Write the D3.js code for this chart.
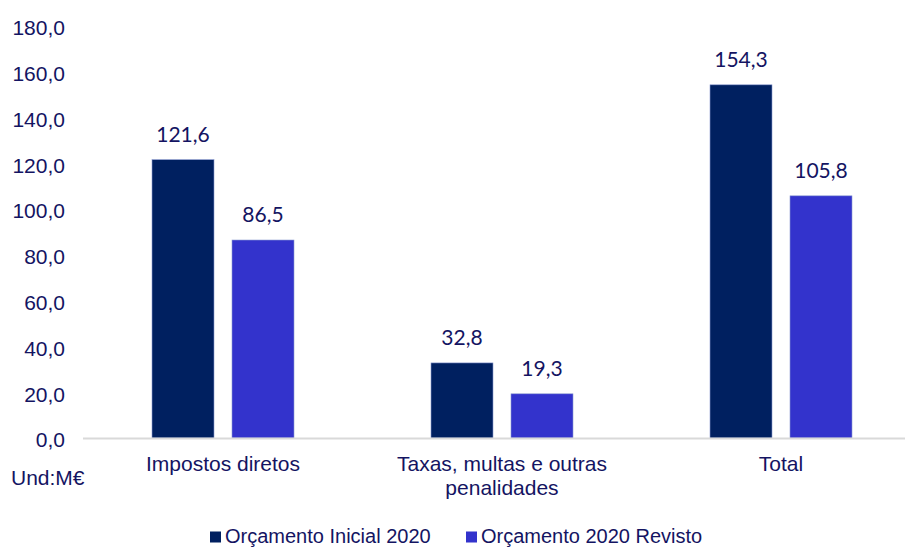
<!DOCTYPE html>
<html>
<head>
<meta charset="utf-8">
<script src="https://cdn.jsdelivr.net/npm/d3@7"></script>
<style>
  html, body { margin: 0; padding: 0; background: #ffffff; }
  svg { display: block; }
</style>
</head>
<body>
<svg id="chart" width="905" height="547"></svg>
<script>
// Receitas por categoria (milhões de euros)
const categories = ["Impostos diretos", "Taxas, multas e outras penalidades", "Total"];
const categoryLines = [["Impostos diretos"], ["Taxas, multas e outras", "penalidades"], ["Total"]];
const seriesNames = ["Orçamento Inicial 2020", "Orçamento 2020 Revisto"];
const inicial = [121.6, 32.8, 154.3];
const revisto = [86.5, 19.3, 105.8];
const yTicks = [0, 20, 40, 60, 80, 100, 120, 140, 160, 180];
const unitLabel = "Und:M€";

const seriesValues = [inicial, revisto];
const colors = ["#002060", "#3333CC"];
const textColor = "#141462";
const fmt = v => d3.format(".1f")(v).replace(".", ",");

const svg = d3.select("#chart");

const x = d3.scaleBand().domain(categories).range([83.5, 920.5]).padding(0);
const xs = d3.scaleBand().domain(seriesNames).range([68.5, 210.5]).paddingInner(0.225).paddingOuter(0);
const y = d3.scaleLinear().domain([0, 180]).range([438, 26]);

// Eixo Y (apenas rótulos)
const yAxis = d3.axisLeft(y).tickValues(yTicks).tickFormat(fmt).tickSize(0).tickPadding(0);
const gy = svg.append("g").attr("transform", "translate(65,0)").call(yAxis);
gy.select(".domain").remove();
gy.selectAll("text")
  .attr("fill", textColor)
  .attr("font-family", "'Liberation Sans', Arial, sans-serif")
  .attr("font-size", 21)
  .attr("dy", "0.42em");

// Barras
categories.forEach((cat, i) => {
  const g = svg.append("g").attr("transform", `translate(${x(cat)},0)`);
  seriesNames.forEach((s, j) => {
    const v = seriesValues[j][i];
    g.append("rect")
      .attr("x", xs(s))
      .attr("y", y(v))
      .attr("width", xs.bandwidth())
      .attr("height", y(0) - y(v))
      .attr("fill", colors[j])
      .attr("stroke", "#8a9ad0")
      .attr("stroke-width", 0.6);
    g.append("text")
      .attr("x", xs(s) + xs.bandwidth() / 2)
      .attr("y", y(v) - 18)
      .attr("text-anchor", "middle")
      .attr("fill", textColor)
      .attr("font-family", "Lato, 'Open Sans', sans-serif")
      .attr("font-size", 21)
      .text(fmt(v));
  });
});

// Linha de base
svg.append("line")
  .attr("x1", 83).attr("x2", 905)
  .attr("y1", y(0) + 0.5).attr("y2", y(0) + 0.5)
  .attr("stroke", "#d9d9d9")
  .attr("stroke-width", 2);

// Rótulos das categorias
categories.forEach((cat, i) => {
  const t = svg.append("text")
    .attr("x", x(cat) + x.bandwidth() / 2)
    .attr("y", 471)
    .attr("text-anchor", "middle")
    .attr("fill", textColor)
    .attr("font-family", "'Liberation Sans', Arial, sans-serif")
    .attr("font-size", 21);
  categoryLines[i].forEach((line, k) => {
    t.append("tspan")
      .attr("x", x(cat) + x.bandwidth() / 2)
      .attr("dy", k === 0 ? 0 : 24)
      .text(line);
  });
});

// Unidade
svg.append("text")
  .attr("x", 11)
  .attr("y", 485)
  .attr("fill", textColor)
  .attr("font-family", "'Liberation Sans', Arial, sans-serif")
  .attr("font-size", 21)
  .text(unitLabel);

// Legenda
const legendX = [210, 466];
seriesNames.forEach((s, j) => {
  svg.append("rect")
    .attr("x", legendX[j]).attr("y", 531.5)
    .attr("width", 11).attr("height", 11)
    .attr("fill", colors[j]);
  svg.append("text")
    .attr("x", legendX[j] + 15)
    .attr("y", 543)
    .attr("fill", textColor)
    .attr("font-family", "'Liberation Sans', Arial, sans-serif")
    .attr("font-size", 20)
    .text(s);
});
</script>
</body>
</html>
